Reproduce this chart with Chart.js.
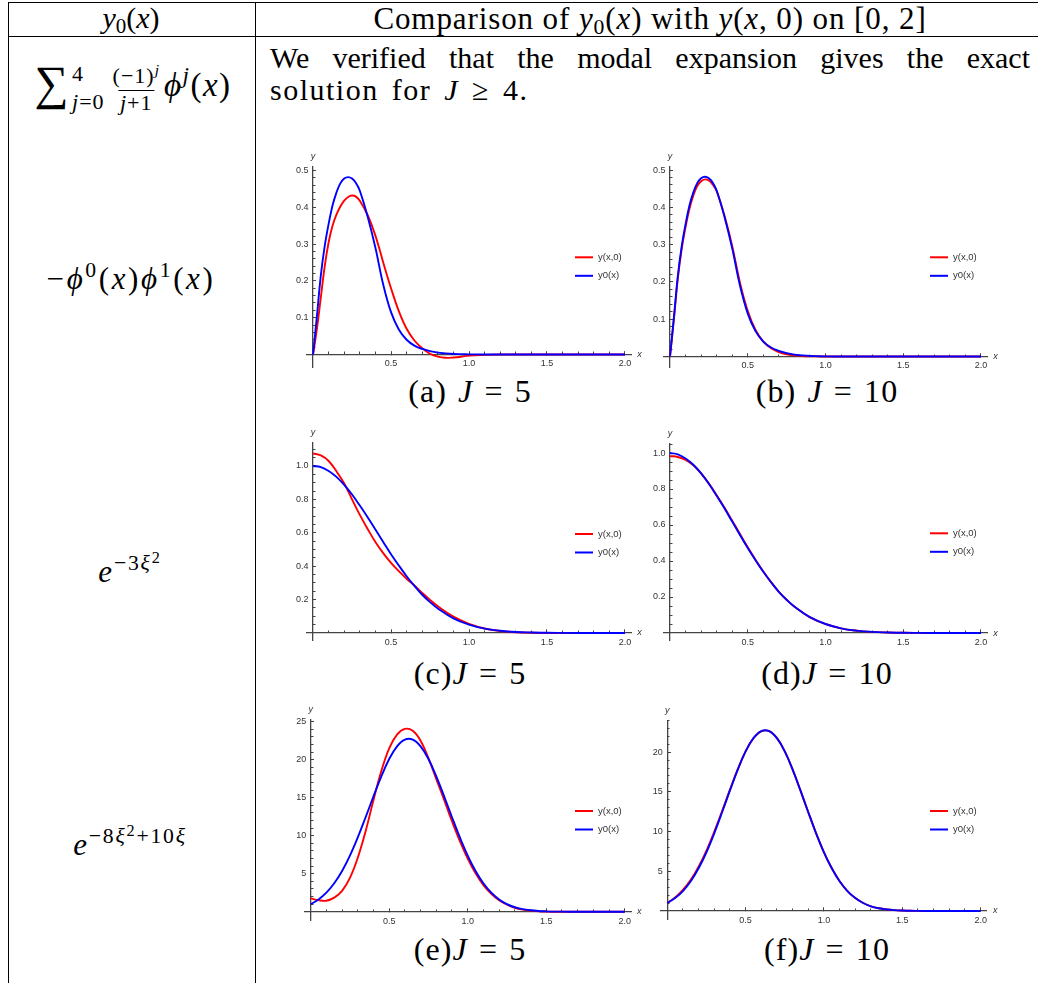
<!DOCTYPE html>
<html>
<head>
<meta charset="utf-8">
<title>Comparison of y0(x) with y(x,0) on [0,2]</title>
<script src="https://cdn.jsdelivr.net/npm/chart.js@4.4.1/dist/chart.umd.min.js"></script>
<style>
  html, body { margin: 0; padding: 0; background: #fff; }
  body { width: 1038px; height: 983px; position: relative; overflow: hidden;
         font-family: "Liberation Serif", "Times New Roman", serif; color: #000; }
  .rule { position: absolute; background: #000; }
  .txt { position: absolute; white-space: nowrap; line-height: 1; }
  .c { transform: translateX(-50%); }
  i { font-style: italic; }
  .sp { font-size: 0.7em; position: relative; top: -0.55em; }
  .sb { font-size: 0.7em; position: relative; top: 0.25em; }
  .sp .sp { font-size: 0.75em; top: -0.45em; }
  .bigop { font-size: 1.45em; position: relative; top: 0.06em; margin-right: 2px; }
  .lims { display: inline-flex; flex-direction: column; align-items: flex-start; font-size: 22px;
          line-height: 28px; vertical-align: 15px; margin-right: 8px; letter-spacing: 1px; }
  .frac { display: inline-flex; flex-direction: column; align-items: center; font-size: 22px;
          line-height: 24px; vertical-align: 13px; margin-right: 4px; letter-spacing: 1px; }
  .frac .de { border-top: 1.3px solid #000; padding: 0 2px; line-height: 23px; }
  .cap { font-size: 32px; letter-spacing: 1.1px; word-spacing: 2px; }
  canvas { position: absolute; }
</style>
</head>
<body>

<!-- table rules -->
<div class="rule" style="left:7.5px; top:1.5px; width:1031px; height:1.3px"></div>
<div class="rule" style="left:7.5px; top:36px; width:1031px; height:1.3px"></div>
<div class="rule" style="left:7.5px; top:1.5px; width:1.3px; height:982px"></div>
<div class="rule" style="left:254.5px; top:1.5px; width:1.3px; height:982px"></div>

<!-- header row -->
<div class="txt c" style="left:131px; top:2.5px; font-size:30px"><i>y</i><span class="sb">0</span>(<i>x</i>)</div>
<div class="txt c" style="left:650px; top:2.5px; font-size:31px; letter-spacing:0.9px">Comparison of <i>y</i><span class="sb">0</span>(<i>x</i>) with <i>y</i>(<i>x</i>, 0) on [0, 2]</div>

<!-- first body row -->
<div class="txt c" style="left:133px; top:56px; font-size:33px; letter-spacing:1.5px"><span class="bigop">∑</span><span class="lims"><span>4</span><span><i>j</i>=0</span></span><span class="frac"><span class="nu">(−1)<span class="sp"><i>j</i></span></span><span class="de"><i>j</i>+1</span></span><i>ϕ</i><span class="sp"><i>j</i></span>(<i>x</i>)</div>
<div class="txt" style="left:270px; top:42.5px; width:760px; font-size:30px; white-space:normal; text-align:justify; text-align-last:justify">We verified that the modal expansion gives the exact</div>
<div class="txt" style="left:270px; top:75px; font-size:30px; letter-spacing:1.5px; word-spacing:4px">solution for <i>J</i> ≥ 4.</div>

<!-- initial data column -->
<div class="txt c" style="left:131px; top:263px; font-size:31px; letter-spacing:2.6px">−<i>ϕ</i><span class="sp">0</span>(<i>x</i>)<i>ϕ</i><span class="sp">1</span>(<i>x</i>)</div>
<div class="txt c" style="left:130px; top:556px; font-size:31px; letter-spacing:1.8px"><i>e</i><span class="sp">−3<i>ξ</i><span class="sp">2</span></span></div>
<div class="txt c" style="left:130px; top:829px; font-size:31px; letter-spacing:1.8px"><i>e</i><span class="sp">−8<i>ξ</i><span class="sp">2</span>+10<i>ξ</i></span></div>

<!-- sub-figure captions -->
<div class="txt c cap" style="left:470px; top:375px">(a) <i>J</i> = 5</div>
<div class="txt c cap" style="left:827px; top:375px">(b) <i>J</i> = 10</div>
<div class="txt c cap" style="left:470px; top:657px">(c)<i>J</i> = 5</div>
<div class="txt c cap" style="left:827px; top:657px">(d)<i>J</i> = 10</div>
<div class="txt c cap" style="left:470px; top:933px">(e)<i>J</i> = 5</div>
<div class="txt c cap" style="left:827px; top:933px">(f)<i>J</i> = 10</div>

<script>
// ---- sample abscissae -------------------------------------------------
const xA = [0, 0.025, 0.05, 0.075, 0.1, 0.125, 0.15, 0.175, 0.2, 0.225, 0.25, 0.275, 0.3,
            0.35, 0.4, 0.45, 0.5, 0.55, 0.6, 0.65, 0.7, 0.75, 0.8, 0.85, 0.9, 0.95, 1.0,
            1.1, 1.2, 1.4, 1.6, 1.8, 2.0];
const xC = [0, 0.05, 0.1, 0.15, 0.2, 0.25, 0.3, 0.35, 0.4, 0.45, 0.5, 0.55, 0.6, 0.65, 0.7,
            0.75, 0.8, 0.9, 1.0, 1.1, 1.2, 1.3, 1.4, 1.5, 1.6, 1.8, 2.0];
const xE = [0, 0.05, 0.1, 0.15, 0.2, 0.25, 0.3, 0.35, 0.4, 0.45, 0.5, 0.55, 0.6, 0.65, 0.7,
            0.75, 0.8, 0.85, 0.9, 0.95, 1.0, 1.05, 1.1, 1.15, 1.2, 1.25, 1.3, 1.35, 1.4,
            1.45, 1.5, 1.55, 1.6, 1.7, 1.8, 1.9, 2.0];

// ---- y0(x) = -phi0(x) phi1(x) and its reconstructions ------------------
const blueA = [0, 0.105, 0.215, 0.295, 0.355, 0.405, 0.44, 0.465, 0.478, 0.482, 0.478, 0.466, 0.445,
               0.375, 0.29, 0.19, 0.115, 0.068, 0.04, 0.024, 0.015, 0.009, 0.005, 0.003, 0.0015, 0.0008, 0.0004,
               0.0001, 0, 0, 0, 0, 0];
const redA  = [0, 0.07, 0.155, 0.24, 0.305, 0.35, 0.38, 0.402, 0.418, 0.428, 0.432, 0.429, 0.418,
               0.379, 0.323, 0.25, 0.18, 0.118, 0.07, 0.038, 0.017, 0.002, -0.006, -0.009, -0.008, -0.006, -0.003,
               -0.001, 0, 0, 0, 0, 0];
const redB  = [0, 0.1, 0.208, 0.288, 0.347, 0.396, 0.432, 0.457, 0.47, 0.475, 0.472, 0.461, 0.443,
               0.378, 0.296, 0.198, 0.122, 0.071, 0.04, 0.022, 0.012, 0.006, 0.003, 0.0015, 0.0007, 0.0003, 0.0001,
               0, 0, 0, 0, 0, 0];

// ---- y0 = exp(-3 xi^2) ---------------------------------------------------
const blueC = [1, 0.993, 0.97, 0.935, 0.887, 0.829, 0.763, 0.693, 0.619, 0.545, 0.472, 0.404, 0.34,
               0.282, 0.229, 0.185, 0.147, 0.088, 0.05, 0.026, 0.013, 0.006, 0.003, 0.001, 0.0005, 0, 0];
const redC  = [1.075, 1.063, 1.03, 0.968, 0.895, 0.8, 0.707, 0.623, 0.545, 0.478, 0.42, 0.37, 0.325,
               0.284, 0.24, 0.198, 0.16, 0.098, 0.055, 0.027, 0.012, 0.004, 0.001, 0, 0, 0, 0];
const redD  = [0.983, 0.978, 0.962, 0.932, 0.887, 0.83, 0.765, 0.697, 0.624, 0.55, 0.476, 0.407, 0.342,
               0.283, 0.229, 0.184, 0.146, 0.087, 0.05, 0.026, 0.013, 0.006, 0.003, 0.001, 0.0005, 0, 0];

// ---- y0 = exp(-8 xi^2 + 10 xi) -------------------------------------------
const blueE = [1.0, 1.62, 2.51, 3.74, 5.37, 7.39, 9.78, 12.43, 15.18, 17.81, 20.09, 21.76, 22.65,
               22.65, 21.76, 20.09, 17.81, 15.18, 12.43, 9.78, 7.39, 5.37, 3.74, 2.51, 1.62, 1.0, 0.59,
               0.34, 0.19, 0.1, 0.05, 0.02, 0.01, 0, 0, 0, 0];
const redE  = [1.75, 1.52, 1.45, 1.85, 2.75, 4.45, 7.1, 10.6, 14.7, 18.5, 21.5, 23.3, 24.05,
               23.8, 22.5, 20.2, 17.45, 14.7, 11.9, 9.3, 7.0, 5.05, 3.5, 2.35, 1.5, 0.92, 0.52,
               0.28, 0.14, 0.06, 0.02, 0, 0, 0, 0, 0, 0];
const redF  = [1.0, 1.7, 2.65, 3.92, 5.58, 7.6, 9.98, 12.58, 15.28, 17.86, 20.1, 21.75, 22.63,
               22.64, 21.77, 20.1, 17.82, 15.18, 12.43, 9.78, 7.39, 5.37, 3.74, 2.51, 1.62, 1.0, 0.59,
               0.34, 0.19, 0.1, 0.05, 0.02, 0.01, 0, 0, 0, 0];

// ---- labelled ticks -------------------------------------------------------
const xMajorTicks = [0.5, 1.0, 1.5, 2.0];
const yTicksA = [0.1, 0.2, 0.3, 0.4, 0.5];
const yTicksC = [0.2, 0.4, 0.6, 0.8, 1.0];
const yTicksE = [5, 10, 15, 20, 25];
const yTicksF = [5, 10, 15, 20];

const seriesNames = ['y(x,0)', 'y0(x)'];
const seriesColors = ['#ff0000', '#0000ff'];

// plot boxes (page px) and ranges
const panels = [
  {left: 306.8, top: 166.8, width: 324.4, height: 200.2, xRange: [-0.04, 2.04], yRange: [-0.034, 0.51],
   xs: xA, red: redA, blue: blueA, yMajor: yTicksA, yMinorStep: 0.02, yDigits: 1, legend: [575, 257.3]},
  {left: 663.8, top: 166.3, width: 323.4, height: 201.4, xRange: [-0.04, 2.04], yRange: [-0.03, 0.51],
   xs: xA, red: redB, blue: blueA, yMajor: yTicksA, yMinorStep: 0.02, yDigits: 1, legend: [930, 257.3]},
  {left: 306.8, top: 442.6, width: 324.4, height: 197.4, xRange: [-0.04, 2.04], yRange: [-0.042, 1.14],
   xs: xC, red: redC, blue: blueC, yMajor: yTicksC, yMinorStep: 0.05, yDigits: 1, legend: [575, 534]},
  {left: 663.8, top: 443.3, width: 323.4, height: 196.9, xRange: [-0.04, 2.04], yRange: [-0.04, 1.054],
   xs: xC, red: redD, blue: blueC, yMajor: yTicksC, yMinorStep: 0.05, yDigits: 1, legend: [930, 533.3]},
  {left: 304.4, top: 719.4, width: 326.6, height: 200.7, xRange: [-0.04, 2.04], yRange: [-1.1, 25.3],
   xs: xE, red: redE, blue: blueE, yMajor: yTicksE, yMinorStep: 1, yDigits: 0, legend: [575, 811]},
  {left: 661.0, top: 720.4, width: 325.9, height: 199.3, xRange: [-0.04, 2.04], yRange: [-1.1, 24.0],
   xs: xE, red: redF, blue: blueE, yMajor: yTicksF, yMinorStep: 1, yDigits: 0, legend: [930, 811]}
];

Chart.defaults.font.family = '"Liberation Sans", Arial, sans-serif';

const AXIS = '#444';
const LABEL = '#333';

function stepTicks(step, max) {
  const out = [];
  for (let k = 1; k * step <= max + 1e-9; k++) out.push({value: +(k * step).toFixed(4)});
  return out;
}

// axis names and the line legend, placed with the chart's own scales
const decor = {
  id: 'decor',
  afterDraw(chart, args, opts) {
    const {ctx, chartArea: ca} = chart;
    const sx = chart.scales.x, sy = chart.scales.y;
    ctx.save();
    ctx.fillStyle = LABEL;
    ctx.font = 'italic 9px "Liberation Sans"';
    ctx.textBaseline = 'middle';
    ctx.textAlign = 'center';
    ctx.fillText('y', sx.getPixelForValue(0), ca.top - 10);
    ctx.textAlign = 'left';
    ctx.fillText('x', ca.right + 6, sy.getPixelForValue(0));

    const [lx, ly] = opts.at;
    chart.data.datasets.forEach((ds, i) => {
      const y = ly + i * 18.5;
      ctx.strokeStyle = ds.borderColor;
      ctx.lineWidth = 2;
      ctx.beginPath();
      ctx.moveTo(lx, y);
      ctx.lineTo(lx + 18, y);
      ctx.stroke();
      ctx.fillStyle = '#333';
      ctx.font = '9.5px "Liberation Sans"';
      ctx.fillText(ds.label, lx + 23, y);
    });
    ctx.restore();
  }
};

panels.forEach(p => {
  const cl = Math.floor(p.left) - 40;
  const ct = Math.floor(p.top) - 22;
  const cw = Math.ceil(p.left + p.width) + 26 - cl;
  const ch = Math.ceil(p.top + p.height) + 20 - ct;
  const canvas = document.createElement('canvas');
  canvas.width = cw; canvas.height = ch;
  canvas.style.left = cl + 'px'; canvas.style.top = ct + 'px';
  canvas.style.width = cw + 'px'; canvas.style.height = ch + 'px';
  document.body.appendChild(canvas);

  const makeSet = (vals, idx) => ({
    label: seriesNames[idx],
    data: p.xs.map((x, i) => ({x, y: vals[i]})),
    borderColor: seriesColors[idx],
    borderWidth: 1.9,
    pointRadius: 0,
    tension: 0.4,
    fill: false,
    order: idx === 0 ? 1 : 0
  });

  const fmtY = v => (p.yDigits ? v.toFixed(p.yDigits) : String(v)) + '\u2002';

  new Chart(canvas, {
    type: 'line',
    data: {datasets: [makeSet(p.red, 0), makeSet(p.blue, 1)]},
    plugins: [decor],
    options: {
      responsive: false,
      animation: false,
      devicePixelRatio: 1,
      layout: {padding: {
        left: p.left - cl, top: p.top - ct,
        right: cl + cw - (p.left + p.width), bottom: ct + ch - (p.top + p.height)
      }},
      plugins: {legend: {display: false}, tooltip: {enabled: false}, decor: {at: [p.legend[0] - cl, p.legend[1] - ct]}},
      scales: {
        x: {
          type: 'linear', position: {y: 0}, min: p.xRange[0], max: p.xRange[1],
          afterBuildTicks: s => { s.ticks = xMajorTicks.map(v => ({value: v})); },
          grid: {drawOnChartArea: false, tickLength: -4, tickColor: AXIS, tickWidth: 1},
          border: {color: AXIS, width: 1.3},
          ticks: {color: LABEL, font: {size: 9}, padding: 8, maxRotation: 0, autoSkip: false,
                  callback: v => v.toFixed(1)}
        },
        xm: {
          type: 'linear', axis: 'x', position: {y: 0}, min: p.xRange[0], max: p.xRange[1],
          afterBuildTicks: s => { s.ticks = stepTicks(0.1, p.xRange[1]); },
          grid: {drawOnChartArea: false, tickLength: -2.5, tickColor: AXIS, tickWidth: 1},
          border: {display: false},
          ticks: {display: false}
        },
        y: {
          type: 'linear', position: {x: 0}, min: p.yRange[0], max: p.yRange[1],
          afterBuildTicks: s => { s.ticks = p.yMajor.map(v => ({value: v})); },
          grid: {drawOnChartArea: false, tickLength: -4, tickColor: AXIS, tickWidth: 1},
          border: {color: AXIS, width: 1.3},
          ticks: {color: LABEL, font: {size: 9}, padding: 4, autoSkip: false, callback: fmtY}
        },
        ym: {
          type: 'linear', axis: 'y', position: {x: 0}, min: p.yRange[0], max: p.yRange[1],
          afterBuildTicks: s => { s.ticks = stepTicks(p.yMinorStep, p.yRange[1]); },
          grid: {drawOnChartArea: false, tickLength: -2.5, tickColor: AXIS, tickWidth: 1},
          border: {display: false},
          ticks: {display: false}
        }
      }
    }
  });
});
</script>
</body>
</html>
